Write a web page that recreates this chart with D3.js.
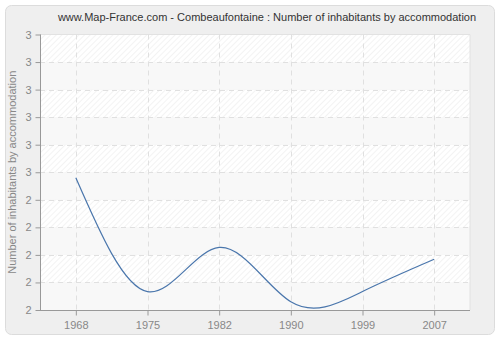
<!DOCTYPE html>
<html><head><meta charset="utf-8">
<script src="https://cdn.jsdelivr.net/npm/d3@7"></script>
<style>body{margin:0;background:#fff}svg{display:block}</style>
</head><body>
<svg id="c" width="500" height="340"></svg>
<script>
const years = ["1968","1975","1982","1990","1999","2007"];
const values = [2.48, 2.067, 2.227, 2.03, 2.067, 2.184];
const yTicks = [2.0,2.1,2.2,2.3,2.4,2.5,2.6,2.7,2.8,2.9,3.0];
const title = "www.Map-France.com - Combeaufontaine : Number of inhabitants by accommodation";
const yTitle = "Number of inhabitants by accommodation";

const svg = d3.select("#c");
const m = {l:40, r:470, t:34.5, b:310};
const font = "Liberation Sans, Arial, sans-serif";

const defs = svg.append("defs");
const pat = defs.append("pattern").attr("id","hatch").attr("patternUnits","userSpaceOnUse")
  .attr("width",4).attr("height",4).attr("patternTransform","rotate(45)");
pat.append("rect").attr("width",4).attr("height",4).attr("fill","#ffffff");
pat.append("line").attr("x1",0).attr("y1",0).attr("x2",0).attr("y2",4).attr("stroke","#ebebeb").attr("stroke-width",1.2);

svg.append("rect").attr("x",5.5).attr("y",5.5).attr("width",489).attr("height",329).attr("rx",6)
  .attr("fill","#efefef").attr("stroke","#dcdcdc");

const x = d3.scalePoint().domain(years).range([m.l, m.r]).padding(0.5);
const y = d3.scaleLinear().domain([2,3]).range([m.b, m.t]);

// bands
const bands = yTicks.slice(0,-1).map((v,i)=>({lo:v, hi:yTicks[i+1], i}));
svg.append("g").selectAll("rect").data(bands).join("rect")
  .attr("x", m.l).attr("width", m.r-m.l)
  .attr("y", d=>y(d.hi)).attr("height", d=>y(d.lo)-y(d.hi))
  .attr("fill", d=> (bands.length-1-d.i)%2===0 ? "url(#hatch)" : "#f8f8f8");

// plot border top/right
svg.append("path").attr("d",`M${m.l},${m.t}H${m.r}V${m.b}`).attr("fill","none").attr("stroke","#e2e2e2");

// grid
const grid = svg.append("g").attr("stroke","#e0e0e0").attr("stroke-dasharray","5,4").attr("stroke-width",1);
grid.selectAll("line.h").data(yTicks.slice(1,-1)).join("line").attr("class","h")
  .attr("x1",m.l).attr("x2",m.r).attr("y1",d=>Math.round(y(d))+0.5).attr("y2",d=>Math.round(y(d))+0.5);
grid.selectAll("line.v").data(years).join("line").attr("class","v")
  .attr("y1",m.t).attr("y2",m.b).attr("x1",d=>Math.round(x(d))+0.5).attr("x2",d=>Math.round(x(d))+0.5);

// line
const line = d3.line().x((d,i)=>x(years[i])).y(d=>y(d)).curve(d3.curveNatural);
svg.append("path").datum(values).attr("d",line).attr("fill","none").attr("stroke","#4a76ac").attr("stroke-width",1.2);

// axes
const yAxis = d3.axisLeft(y).tickValues(yTicks).tickFormat(d=>Math.round(d).toString()).tickSize(5).tickPadding(4);
const gy = svg.append("g").attr("transform",`translate(${m.l+0.5},0)`).call(yAxis);
const xAxis = d3.axisBottom(x).tickSize(5).tickPadding(6);
const gx = svg.append("g").attr("transform",`translate(0,${m.b+0.5})`).call(xAxis);
[gy,gx].forEach(g=>{
  g.select(".domain").attr("stroke","#999");
  g.selectAll(".tick line").attr("stroke","#999");
  g.selectAll(".tick text").attr("fill","#888").attr("font-family",font).attr("font-size",11);
});
gx.select(".domain").attr("d",`M${m.l},0H${m.r}`);
gy.select(".domain").attr("d",`M0,${m.b}V${m.t}`);

svg.append("text").attr("x",267).attr("y",21).attr("text-anchor","middle")
  .attr("font-family",font).attr("font-size",11).attr("fill","#333").text(title);
svg.append("text").attr("transform",`translate(16,${(m.t+m.b)/2}) rotate(-90)`).attr("text-anchor","middle")
  .attr("font-family",font).attr("font-size",11).attr("fill","#888").text(yTitle);
</script>
</body></html>
